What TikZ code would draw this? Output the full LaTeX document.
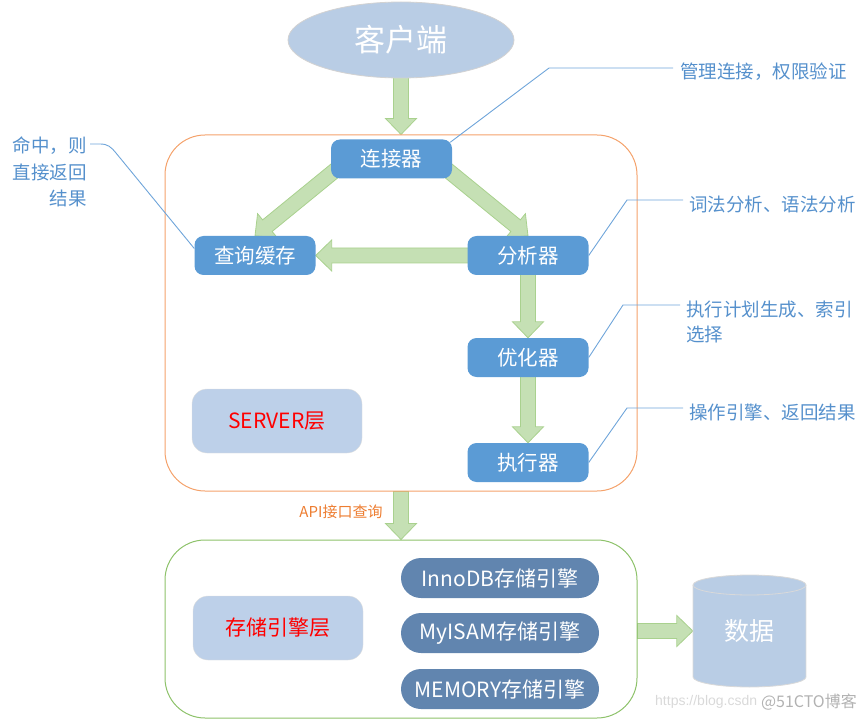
\documentclass[tikz,border=0pt]{standalone}
\usepackage{fontspec}
\setmainfont{Noto Sans CJK SC}
\newfontfamily\wmfont{Liberation Sans}
\usetikzlibrary{calc,backgrounds,shapes.geometric}
\definecolor{nodeblue}{HTML}{5B9BD5}
\definecolor{lightbox}{HTML}{BDD0E9}
\definecolor{ellfill}{HTML}{B9CDE5}
\definecolor{engfill}{HTML}{6185AF}
\definecolor{arrfill}{HTML}{C5E0B4}
\definecolor{arrdraw}{HTML}{A9D18E}
\definecolor{srvorange}{HTML}{F4A26B}
\definecolor{stogreen}{HTML}{8DC26A}
\definecolor{calltext}{HTML}{5590CC}
\definecolor{callline}{HTML}{6FA5DA}
\definecolor{apiorange}{HTML}{ED7D31}
\tikzset{
  procbox/.style={fill=nodeblue, rounded corners=9pt, minimum width=121pt, minimum height=39pt, inner sep=0pt, text=white, font=\fontsize{20.5}{24}\selectfont},
  layerbox/.style={fill=lightbox, draw=gray!25, rounded corners=15pt, minimum width=170pt, minimum height=64pt, inner sep=0pt, text=red, font=\fontsize{21}{25}\selectfont},
  engbox/.style={fill=engfill, rounded corners=20pt, minimum width=198pt, minimum height=40pt, inner sep=0pt, text=white, font=\fontsize{21}{25}\selectfont},
  barrow/.style={fill=arrfill, draw=arrdraw, line width=0.8pt, line join=miter},
  cline/.style={draw=callline, line width=0.9pt},
  callout/.style={inner sep=0pt, text=calltext, font=\fontsize{18.5}{25}\selectfont},
}
\newcommand\blockarr[2]{%
  \coordinate (bh) at ($(#2)!16pt!(#1)$);
  \filldraw[barrow] ($(#1)!7.5pt!90:(#2)$) -- ($(bh)!7.5pt!90:(#2)$) -- ($(bh)!15.5pt!90:(#2)$) -- (#2) -- ($(bh)!15.5pt!-90:(#2)$) -- ($(bh)!7.5pt!-90:(#2)$) -- ($(#1)!7.5pt!-90:(#2)$) -- cycle;}
\begin{document}
\begin{tikzpicture}[x=1pt,y=-1pt]
\useasboundingbox (0,0) rectangle (867,719);
% layers
\node[draw=srvorange, line width=1pt, rounded corners=40pt, minimum width=472pt, minimum height=356pt, inner sep=0pt] (srv) at (401,313) {};
\node[draw=stogreen, line width=1pt, rounded corners=40pt, minimum width=472pt, minimum height=178pt, inner sep=0pt] (stor) at (401,629) {};
% client
\node[ellipse, fill=ellfill, draw=gray!35, line width=0.8pt, minimum width=226pt, minimum height=76pt, inner sep=0pt, text=white, font=\fontsize{31}{36}\selectfont] (cli) at (401,40) {客户端};
% processing nodes
\node[procbox] (conn) at (391.5,159) {连接器};
\node[procbox] (qc) at (255,255.5) {查询缓存};
\node[procbox] (an) at (528,255.5) {分析器};
\node[procbox] (opt) at (528,357.5) {优化器};
\node[procbox] (exe) at (528,462.5) {执行器};
\node[layerbox] (srvl) at (277,421) {SERVER层};
% storage
\node[layerbox] (stl) at (278,628) {存储引擎层};
\node[engbox] (inno) at (500,578) {InnoDB存储引擎};
\node[engbox] (myis) at (500,633) {MyISAM存储引擎};
\node[engbox] (mem) at (500,689) {MEMORY存储引擎};
% data cylinder
\fill[ellfill] (693,585) rectangle (806,677);
\fill[ellfill] (749.5,677) ellipse[x radius=56.5, y radius=10];
\draw[gray!30, line width=0.8pt] (693,585) -- (693,677) arc[start angle=180, end angle=0, x radius=56.5, y radius=10] -- (806,585);
\draw[gray!30, line width=0.8pt, fill=ellfill] (749.5,585) ellipse[x radius=56.5, y radius=10];
\node[minimum width=113pt, minimum height=112pt, inner sep=0pt, text=white, font=\fontsize{25}{30}\selectfont] (data) at (749.5,631) {数据};
% API label
\node[inner sep=0pt, text=apiorange, font=\fontsize{15}{18}\selectfont] (api) at (341,512) {API接口查询};
% block arrows
\begin{pgfonlayer}{background}
\coordinate (a1) at (cli.center);
\coordinate (a2) at (cli.center |- srv.north);
\blockarr{a1}{a2}
\coordinate (b1) at ($(conn.west)!0.3!(conn.center)$);
\blockarr{b1}{qc.north}
\coordinate (c1) at ($(conn.east)!0.3!(conn.center)$);
\blockarr{c1}{an.north}
\blockarr{an.center}{qc.east}
\blockarr{an.center}{opt.north}
\blockarr{opt.center}{exe.north}
\blockarr{srv.south}{stor.north}
\coordinate (d1) at (stor.east |- data.west);
\blockarr{d1}{data.west}
\end{pgfonlayer}
% callouts
\node[callout, anchor=west] (tA) at (680,72) {管理连接，权限验证};
\draw[cline] ($(conn.north east)+(-2,3)$) -- ($(tA.west)+(-131,-4)$) -- ($(tA.west)+(-7,-4)$);
\node[callout, anchor=west] (tB) at (689,204) {词法分析、语法分析};
\draw[cline] (an.east) -- ($(tB.west)+(-62,-4)$) -- ($(tB.west)+(-6,-4)$);
\node[callout, anchor=west, align=left] (tC) at (686,321.5) {执行计划生成、索引\\选择};
\draw[cline] (opt.east) -- ($(tC.west)+(-63,-16.5)$) -- ($(tC.west)+(-6,-16.5)$);
\node[callout, anchor=west] (tD) at (689,412) {操作引擎、返回结果};
\draw[cline] (exe.east) -- ($(tD.west)+(-62,-4)$) -- ($(tD.west)+(-6,-4)$);
\node[callout, anchor=east, align=right, font=\fontsize{18.5}{26.5}\selectfont] (tE) at (87,172) {命中，则\\直接返回\\结果};
\coordinate (e1) at ($(tE.east)+(3,-28)$);
\draw[cline] (e1) -- ($(e1)+(10,0)$) .. controls ($(e1)+(18,0)$) and ($(e1)+(21,3)$) .. ($(e1)+(26,9)$) -- ($(qc.west)+(0,-7)$);
% watermark
\node[inner sep=0pt, anchor=west, text=gray!30, font=\wmfont\fontsize{14}{16}\selectfont] (wm1) at (655,702) {https://blog.csdn};
\node[inner sep=0pt, anchor=east, text=gray!60, font=\fontsize{16}{18}\selectfont] (wm2) at (857,702) {@51CTO博客};
\end{tikzpicture}
\end{document}
